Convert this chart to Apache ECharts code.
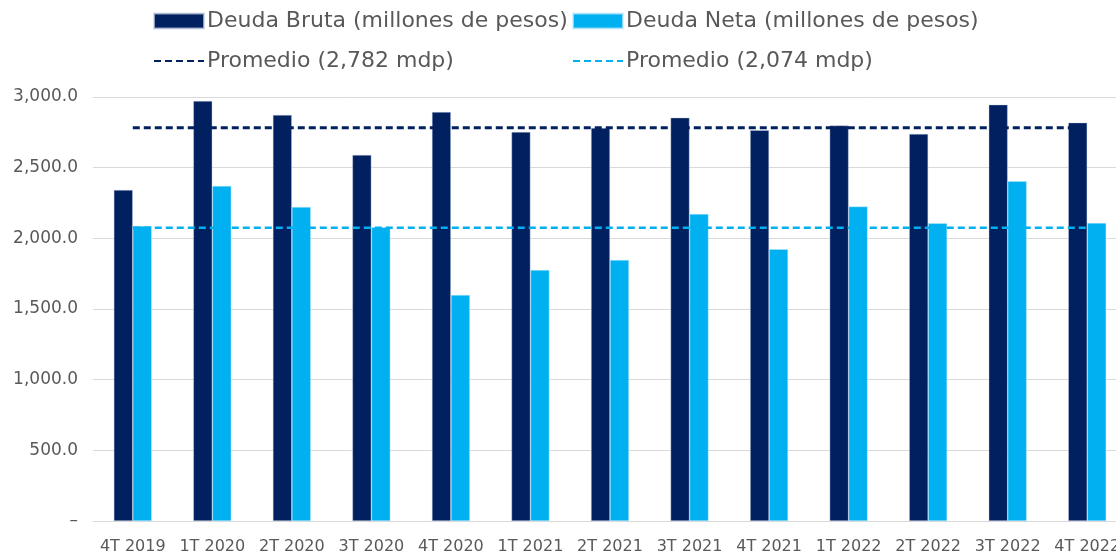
<!DOCTYPE html>
<html>
<head>
<meta charset="utf-8">
<script src="https://cdn.jsdelivr.net/npm/echarts@6/dist/echarts.min.js"></script>
<style>
  html, body { margin: 0; padding: 0; background: #fff; overflow: hidden; }
  /* el área de trazado continúa un poco más allá del borde derecho */
  #chart { width: 1127px; height: 557px; }
</style>
</head>
<body>
<div id="chart"></div>
<script>
// trimestres
const categories = ['4T 2019', '1T 2020', '2T 2020', '3T 2020', '4T 2020', '1T 2021', '2T 2021',
  '3T 2021', '4T 2021', '1T 2022', '2T 2022', '3T 2022', '4T 2022'];

// millones de pesos
const deudaBruta = [2342, 2972, 2873, 2590, 2894, 2753, 2781, 2854, 2765, 2798, 2739, 2946, 2819];
const deudaNeta = [2088, 2371, 2222, 2078, 1600, 1776, 1847, 2173, 1923, 2225, 2107, 2404, 2109];

// promedios del periodo
const promedioBruta = [2782, 2782, 2782, 2782, 2782, 2782, 2782, 2782, 2782, 2782, 2782, 2782, 2782];
const promedioNeta = [2074, 2074, 2074, 2074, 2074, 2074, 2074, 2074, 2074, 2074, 2074, 2074, 2074];

const yTicks = [0, 500, 1000, 1500, 2000, 2500, 3000];

const azulOscuro = '#002060';
const azulClaro = '#00B0F0';
const fuente = 'DejaVu Sans';

const chart = echarts.init(document.getElementById('chart'));

const legendText = { fontFamily: fuente, fontSize: 22, color: '#595959', padding: [0, 0, 0, -2] };

let option = {
  animation: false,
  legend: [
    {
      left: 153, top: 10, orient: 'vertical', itemGap: 18, padding: 0,
      itemWidth: 50, itemHeight: 15, textStyle: legendText,
      data: [
        { name: 'Deuda Bruta (millones de pesos)', icon: 'rect' },
        { name: 'Promedio (2,782 mdp)', itemStyle: { opacity: 0 } }
      ]
    },
    {
      left: 572, top: 10, orient: 'vertical', itemGap: 18, padding: 0,
      itemWidth: 50, itemHeight: 15, textStyle: legendText,
      data: [
        { name: 'Deuda Neta (millones de pesos)', icon: 'rect' },
        { name: 'Promedio (2,074 mdp)', itemStyle: { opacity: 0 } }
      ]
    }
  ],
  grid: { left: 93, right: 0, top: 97, bottom: 36, containLabel: false },
  xAxis: {
    type: 'category',
    data: categories,
    axisLine: { lineStyle: { color: '#d9d9d9', width: 1 } },
    axisTick: { show: false },
    axisLabel: { interval: 0, margin: 18, fontFamily: fuente, fontSize: 16, color: '#595959' }
  },
  yAxis: {
    type: 'value',
    min: yTicks[0],
    max: yTicks[yTicks.length - 1],
    interval: 500,
    axisLine: { show: false },
    axisTick: { show: false },
    splitLine: { lineStyle: { color: '#d9d9d9', width: 1 } },
    axisLabel: {
      margin: 15, fontFamily: fuente, fontSize: 17, color: '#595959',
      formatter: v => v === 0 ? '–' : v.toLocaleString('en-US', { minimumFractionDigits: 1, maximumFractionDigits: 1 })
    }
  },
  series: [
    {
      name: 'Deuda Bruta (millones de pesos)', type: 'bar', data: deudaBruta,
      barWidth: 19, barGap: '0%',
      itemStyle: { color: azulOscuro, borderColor: 'rgba(200,210,230,0.7)', borderWidth: 0.6 }
    },
    {
      name: 'Deuda Neta (millones de pesos)', type: 'bar', data: deudaNeta,
      barWidth: 19, barGap: '0%',
      itemStyle: { color: azulClaro, borderColor: 'rgba(200,235,250,0.7)', borderWidth: 0.6 }
    },
    {
      name: 'Promedio (2,782 mdp)', type: 'line', data: promedioBruta,
      symbol: 'none', z: 5,
      lineStyle: { color: azulOscuro, width: 3, type: [7, 4] },
      itemStyle: { color: azulOscuro }
    },
    {
      name: 'Promedio (2,074 mdp)', type: 'line', data: promedioNeta,
      symbol: 'none', z: 5,
      lineStyle: { color: azulClaro, width: 2.5, type: [7, 4] },
      itemStyle: { color: azulClaro }
    }
  ]
};

chart.setOption(option);
</script>
</body>
</html>
